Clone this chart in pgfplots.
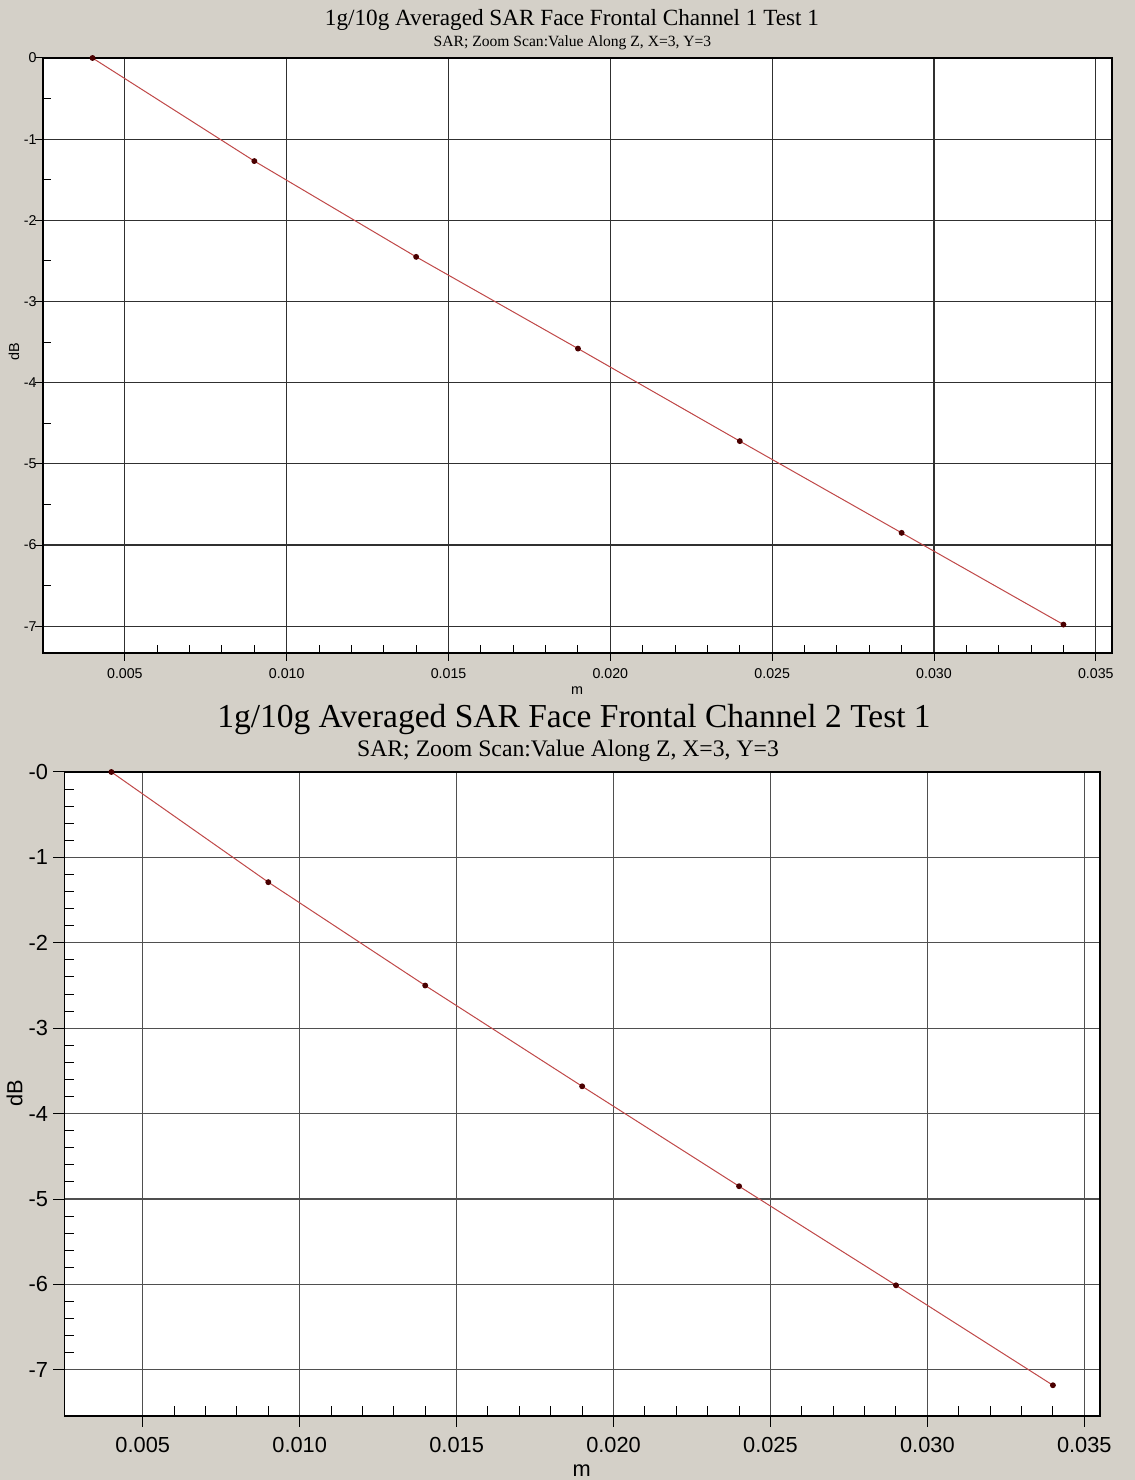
\documentclass[border=0pt]{standalone}
\usepackage{fontspec}
\setmainfont{Liberation Serif}
\newfontfamily\arial{Liberation Sans}
\usepackage{pgfplots}
\pgfplotsset{compat=1.18}
\definecolor{winbg}{HTML}{D4D0C8}
\definecolor{linered}{HTML}{C04848}
\definecolor{markred}{HTML}{4A0000}
\definecolor{gridc}{HTML}{303030}

\begin{document}
\begin{tikzpicture}[x=1pt,y=1pt]
\fill[winbg] (0,0) rectangle (567.5,740);
\useasboundingbox (0,0) rectangle (567.5,740);

% ---------------- top panel ----------------
\begin{axis}[at={(21.5pt,413.5pt)}, anchor=south west, scale only axis,
  width=534.5pt, height=297.5pt,
  xmin=0.00247, xmax=0.0355, ymin=-7.33, ymax=0,
  axis background/.style={fill=white},
  axis line style={black, line width=0.6pt},
  scaled x ticks=false,
  xtick={0.005,0.010,0.015,0.020,0.025,0.030,0.035},
  xticklabels={0.005,0.010,0.015,0.020,0.025,0.030,0.035},
  ytick={0,-1,-2,-3,-4,-5,-6,-7},
  yticklabels={0,-1,-2,-3,-4,-5,-6,-7},
  minor x tick num=4, minor y tick num=1,
  grid=major, major grid style={gridc, line width=0.55pt},
  tick align=inside, major tick length=-4pt, minor tick length=3.75pt,
  tick style={black, line width=0.5pt},
  xtick pos=left, ytick pos=left,
  xticklabel style={font=\arial\fontsize{7.1}{8}\selectfont, anchor=north, inner sep=0pt, yshift=-7.7pt},
  yticklabel style={font=\arial\fontsize{7.1}{8}\selectfont, anchor=east, inner sep=0pt, xshift=-3pt},
]
\addplot[linered, line width=0.5pt, mark=*, mark size=1.2pt, mark options={fill=markred, draw=markred}]
  coordinates {(0.004,0) (0.009,-1.27) (0.014,-2.45) (0.019,-3.58) (0.024,-4.72) (0.029,-5.85) (0.034,-6.98)};
\end{axis}

% ---------------- bottom panel ----------------
\begin{axis}[at={(32.15pt,32pt)}, anchor=south west, scale only axis,
  width=517.85pt, height=322pt,
  xmin=0.0025, xmax=0.0355, ymin=-7.54, ymax=0,
  axis background/.style={fill=white},
  axis line style={black, line width=0.6pt},
  scaled x ticks=false,
  xtick={0.005,0.010,0.015,0.020,0.025,0.030,0.035},
  xticklabels={0.005,0.010,0.015,0.020,0.025,0.030,0.035},
  ytick={0,-1,-2,-3,-4,-5,-6,-7},
  yticklabels={-0,-1,-2,-3,-4,-5,-6,-7},
  minor x tick num=4, minor y tick num=4,
  grid=major, major grid style={gridc!85!white, line width=0.6pt},
  tick align=inside, major tick length=-5.5pt, minor tick length=5pt,
  tick style={black, line width=0.5pt},
  xtick pos=left, ytick pos=left,
  xticklabel style={font=\arial\fontsize{10.9}{12}\selectfont, anchor=north, inner sep=0pt, yshift=-10.5pt},
  yticklabel style={font=\arial\fontsize{10.9}{12}\selectfont, anchor=east, inner sep=0pt, xshift=-8pt},
]
\addplot[linered, line width=0.5pt, mark=*, mark size=1.2pt, mark options={fill=markred, draw=markred}]
  coordinates {(0.004,0) (0.009,-1.29) (0.014,-2.50) (0.019,-3.68) (0.024,-4.85) (0.029,-6.01) (0.034,-7.18)};
\end{axis}

% titles and labels
\node[anchor=base, font=\fontsize{11.6}{14}\selectfont] at (286,727) {1g/10g Averaged SAR Face Frontal Channel 1 Test 1};
\node[anchor=base, font=\fontsize{7.8}{9}\selectfont] at (286.25,716.75) {SAR; Zoom Scan:Value Along Z, X=3, Y=3};
\node[anchor=base, font=\fontsize{16.75}{20}\selectfont] at (287,376) {1g/10g Averaged SAR Face Frontal Channel 2 Test 1};
\node[anchor=base, font=\fontsize{11.85}{14}\selectfont] at (284,361.65) {SAR; Zoom Scan:Value Along Z, X=3, Y=3};
\node[anchor=base, font=\arial\fontsize{7.2}{8}\selectfont] at (288.5,392.5) {m};
\node[anchor=base, font=\arial\fontsize{10.9}{12}\selectfont] at (290.8,1.65) {m};
\node[rotate=90, font=\arial\fontsize{7.2}{8}\selectfont] at (7,564.15) {dB};
\node[rotate=90, font=\arial\fontsize{10.9}{12}\selectfont] at (7.3,193.35) {dB};
\end{tikzpicture}
\end{document}
